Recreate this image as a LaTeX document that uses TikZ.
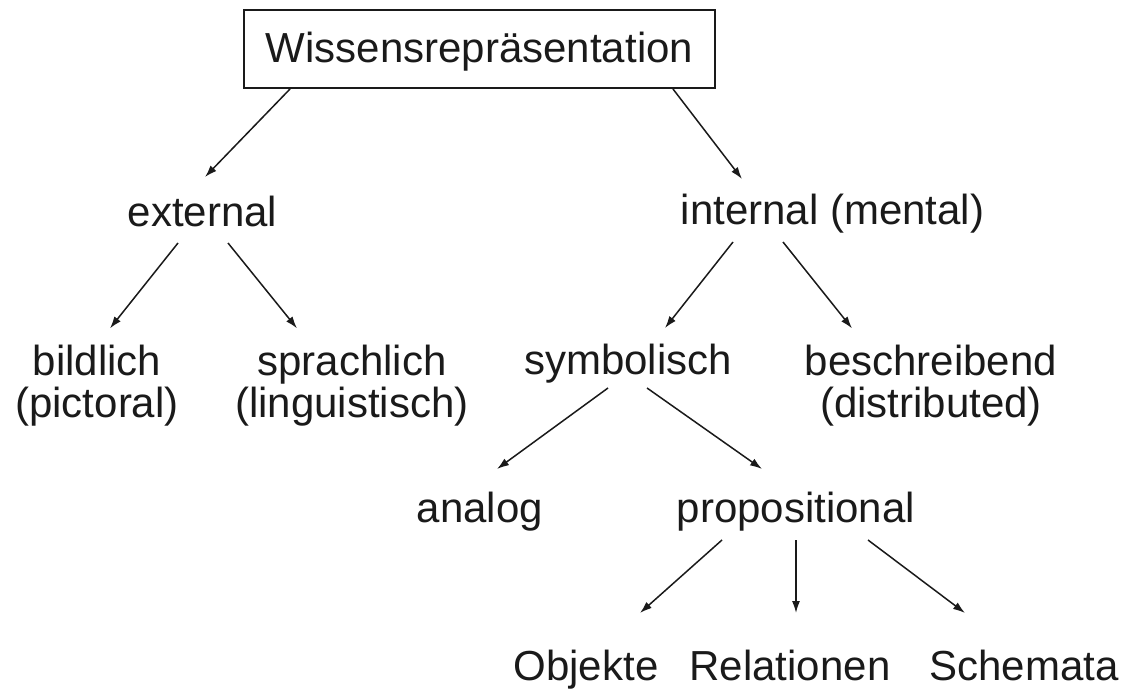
\documentclass[tikz,border=0pt]{standalone}
\usepackage{fontspec}
\setmainfont{Liberation Sans}
\usetikzlibrary{arrows.meta,calc}
\definecolor{ink}{HTML}{1A1A1A}
\begin{document}
\begin{tikzpicture}[x=1pt,y=-1pt,
  lbl/.style={inner sep=0pt,text=ink,font=\fontsize{42}{42}\selectfont},
  lbl2/.style={lbl,align=center},
  rootbox/.style={lbl,draw=ink,line width=2pt,minimum width=471pt,minimum height=78pt,text height=30pt,text depth=2pt},
  arr/.style={draw=ink,line width=1.5pt,-{Latex[length=12pt,width=8pt]}}]
\useasboundingbox[fill=white] (0,0) rectangle (1130,690);
\node[rootbox] (root) at (479.5,49) {Wissensrepräsentation};
\node[lbl,anchor=base] (ext) at (202.5,226) {external};
\node[lbl,anchor=base] (int) at (832.5,224) {internal (mental)};
\node[lbl2,anchor=base] (bild) at (97,417) {bildlich\\(pictoral)};
\node[lbl2,anchor=base] (sprach) at (352,417) {sprachlich\\(linguistisch)};
\node[lbl,anchor=base] (sym) at (628,374) {symbolisch};
\node[lbl2,anchor=base] (besch) at (931,417) {beschreibend\\(distributed)};
\node[lbl,anchor=base] (ana) at (480,522) {analog};
\node[lbl,anchor=base] (prop) at (796,522) {propositional};
\node[lbl,anchor=base] (obj) at (586,680) {Objekte};
\node[lbl,anchor=base] (rel) at (790,680) {Relationen};
\node[lbl,anchor=base] (sch) at (1024,680) {Schemata};
% connectors
\draw[arr] ($(root.south)+(-189.5,0)$) -- ($(ext.base)+(2.5,-49)$);
\draw[arr] ($(root.south)+(193.5,0)$) -- ($(int.base)+(-90.5,-45)$);
\draw[arr] ($(ext.base)+(-24.5,17)$) -- ($(bild.north)+(13,-16)$);
\draw[arr] ($(ext.base)+(25.5,17)$) -- ($(sprach.north)+(-55,-16)$);
\draw[arr] ($(int.base)+(-99.5,18)$) -- ($(sym.base)+(37,-46)$);
\draw[arr] ($(int.base)+(-49.5,18)$) -- ($(besch.north)+(-79,-16)$);
\draw[arr] ($(sym.base)+(-20,14)$) -- ($(ana.base)+(17,-53)$);
\draw[arr] ($(sym.base)+(19,14)$) -- ($(prop.base)+(-34,-53)$);
\draw[arr] ($(prop.base)+(-74,18)$) -- ($(obj.base)+(54,-67)$);
\draw[arr] ($(prop.base)+(0,18)$) -- ($(rel.base)+(6,-67)$);
\draw[arr] ($(prop.base)+(72,18)$) -- ($(sch.base)+(-59,-67)$);
\end{tikzpicture}
\end{document}
